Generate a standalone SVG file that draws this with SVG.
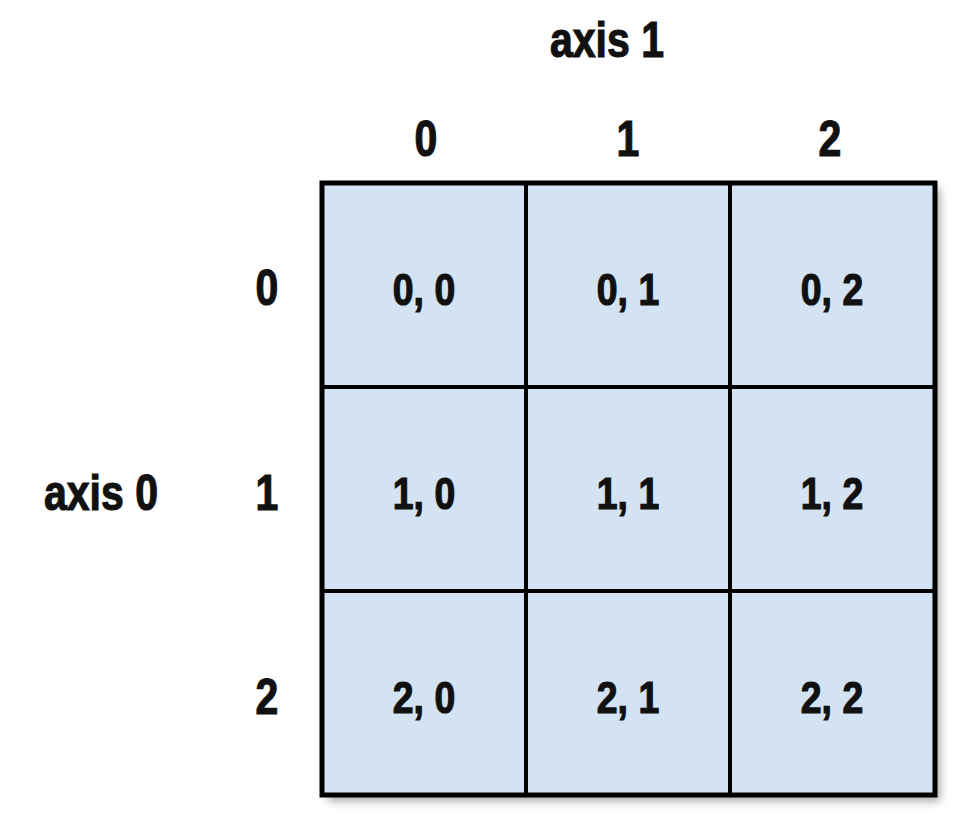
<svg xmlns="http://www.w3.org/2000/svg" width="970" height="830" viewBox="0 0 970 830">
<style>
text{font-family:"Liberation Sans",Arial,sans-serif;font-weight:bold;fill:#111;stroke:#111;stroke-width:1.2;text-anchor:middle}
.h{font-size:50px}
.c{font-size:44px}
.cell{fill:#d3e3f4;stroke:#000;stroke-width:4}
</style>
<defs>
<filter id="sh" x="-10%" y="-10%" width="130%" height="130%">
<feGaussianBlur stdDeviation="5"/>
</filter>
</defs>
<rect x="328" y="189" width="612" height="612" fill="#000" opacity="0.35" filter="url(#sh)"/>
<g id="grid">
<rect class="cell" x="322" y="183" width="204" height="204"/>
<rect class="cell" x="526" y="183" width="204" height="204"/>
<rect class="cell" x="730" y="183" width="205" height="204"/>
<rect class="cell" x="322" y="387" width="204" height="204"/>
<rect class="cell" x="526" y="387" width="204" height="204"/>
<rect class="cell" x="730" y="387" width="205" height="204"/>
<rect class="cell" x="322" y="591" width="204" height="204"/>
<rect class="cell" x="526" y="591" width="204" height="204"/>
<rect class="cell" x="730" y="591" width="205" height="204"/>
<rect x="322" y="183" width="613" height="612" fill="none" stroke="#000" stroke-width="5"/>
</g>
<g id="cells">
<text class="c" transform="translate(424,305) scale(0.85,1)">0, 0</text>
<text class="c" transform="translate(628,305) scale(0.85,1)">0, 1</text>
<text class="c" transform="translate(832,305) scale(0.85,1)">0, 2</text>
<text class="c" transform="translate(424,509) scale(0.85,1)">1, 0</text>
<text class="c" transform="translate(628,509) scale(0.85,1)">1, 1</text>
<text class="c" transform="translate(832,509) scale(0.85,1)">1, 2</text>
<text class="c" transform="translate(424,713) scale(0.85,1)">2, 0</text>
<text class="c" transform="translate(628,713) scale(0.85,1)">2, 1</text>
<text class="c" transform="translate(832,713) scale(0.85,1)">2, 2</text>
</g>
<g id="labels">
<text class="h" transform="translate(607,57) scale(0.82,1)">axis 1</text>
<text class="h" transform="translate(426,156) scale(0.82,1)">0</text>
<text class="h" transform="translate(628,156) scale(0.82,1)">1</text>
<text class="h" transform="translate(830,156) scale(0.82,1)">2</text>
<text class="h" transform="translate(267,305) scale(0.82,1)">0</text>
<text class="h" transform="translate(267,510) scale(0.82,1)">1</text>
<text class="h" transform="translate(267,714) scale(0.82,1)">2</text>
<text class="h" transform="translate(101,510) scale(0.82,1)">axis 0</text>
</g>
</svg>
